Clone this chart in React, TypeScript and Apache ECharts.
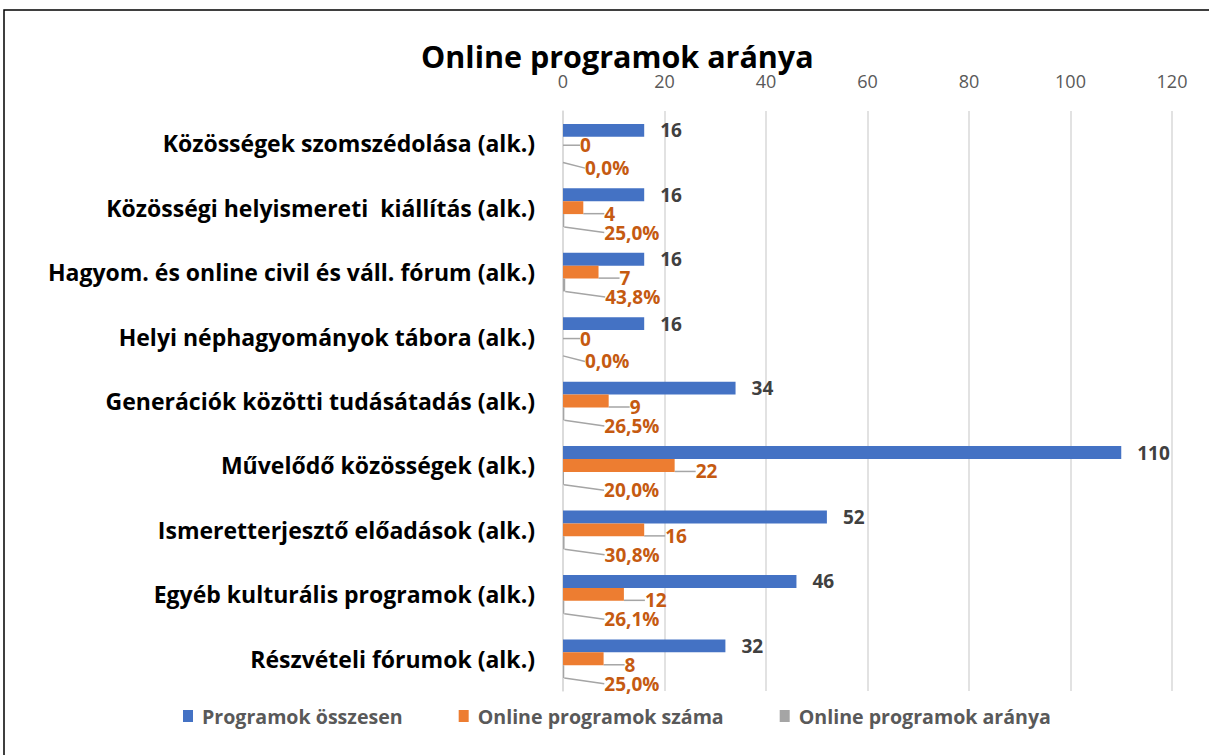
import React, { useEffect, useRef } from "react";
import * as echarts from "echarts";

const categories = [
  "Közösségek szomszédolása (alk.)",
  "Közösségi helyismereti  kiállítás (alk.)",
  "Hagyom. és online civil és váll. fórum (alk.)",
  "Helyi néphagyományok tábora (alk.)",
  "Generációk közötti tudásátadás (alk.)",
  "Művelődő közösségek (alk.)",
  "Ismeretterjesztő előadások (alk.)",
  "Egyéb kulturális programok (alk.)",
  "Részvételi fórumok (alk.)",
];
const totalPrograms = [16, 16, 16, 16, 34, 110, 52, 46, 32];
const onlinePrograms = [0, 4, 7, 0, 9, 22, 16, 12, 8];
const onlineShare = [0.0, 0.25, 0.438, 0.0, 0.265, 0.2, 0.308, 0.261, 0.25];
const seriesNames = ["Programok összesen", "Online programok száma", "Online programok aránya"];
const xTicks = { min: 0, max: 120, interval: 20 };

const FONT = "'Open Sans', Lato, sans-serif";

export default function App() {
  const ref = useRef<HTMLDivElement>(null);
  useEffect(() => {
    if (!ref.current) return;
    const chart = echarts.init(ref.current, null, { renderer: "svg" });
    const labelColor = "#C55A11";
    chart.setOption({
      animation: false,
      textStyle: { fontFamily: FONT },
      title: {
        text: "Online programok aránya",
        left: 416,
        top: 35,
        textStyle: { fontFamily: FONT, fontWeight: "bold", fontSize: 30.5, color: "#000" },
      },
      graphic: [
        {
          type: "rect",
          shape: { x: 4, y: 10, width: 1300, height: 800 },
          style: { fill: "none", stroke: "#000", lineWidth: 1.5 },
          silent: true,
        },
      ],
      legend: {
        bottom: 24,
        left: 178,
        icon: "rect",
        itemWidth: 10,
        itemHeight: 12,
        itemGap: 56,
        textStyle: {
          fontFamily: FONT,
          fontWeight: "bold",
          fontSize: 19.6,
          color: "#595959",
          padding: [0, 0, 0, 4],
        },
        data: seriesNames,
      },
      grid: { left: 563, right: 37, top: 111, bottom: 64 },
      xAxis: {
        type: "value",
        position: "top",
        min: xTicks.min,
        max: xTicks.max,
        interval: xTicks.interval,
        axisLine: { show: false },
        axisTick: { show: false },
        axisLabel: { color: "#595959", fontSize: 18, margin: 21, fontFamily: FONT },
        splitLine: { lineStyle: { color: "#d9d9d9", width: 1.5 } },
      },
      yAxis: {
        type: "category",
        inverse: true,
        data: categories,
        axisLine: { show: true, lineStyle: { color: "#d9d9d9", width: 1.5 } },
        axisTick: { show: false },
        axisLabel: { color: "#000", fontWeight: "bold", fontSize: 23, margin: 28, fontFamily: FONT },
      },
      series: [
        {
          name: seriesNames[0],
          type: "bar",
          data: totalPrograms,
          barGap: "0%",
          barCategoryGap: "40%",
          itemStyle: { color: "#4472C4" },
          label: {
            show: true,
            position: "right",
            distance: 16,
            color: "#404040",
            fontWeight: "bold",
            fontSize: 19,
            fontFamily: FONT,
          },
        },
        {
          name: seriesNames[1],
          type: "bar",
          data: onlinePrograms,
          barGap: "0%",
          barCategoryGap: "40%",
          itemStyle: { color: "#ED7D31" },
          label: {
            show: true,
            position: "right",
            distance: 5,
            color: labelColor,
            fontWeight: "bold",
            fontSize: 19,
            fontFamily: FONT,
          },
          labelLayout: (p: any) =>
            onlinePrograms[p.dataIndex] === 0 ? { dx: 12, dy: 2 } : { dx: 16, dy: 6 },
          labelLine: { show: true, lineStyle: { color: "#a5a5a5", width: 1.5 } },
        },
        {
          name: seriesNames[2],
          type: "bar",
          data: onlineShare,
          barGap: "0%",
          barCategoryGap: "40%",
          itemStyle: { color: "#A5A5A5" },
          label: {
            show: true,
            position: "right",
            distance: 5,
            color: labelColor,
            fontWeight: "bold",
            fontSize: 19,
            fontFamily: FONT,
            formatter: (p: any) => (p.value * 100).toFixed(1).replace(".", ",") + "%",
          },
          labelLayout: (p: any) => ({ dx: onlineShare[p.dataIndex] === 0 ? 17 : 35, dy: 12 }),
          labelLine: { show: true, lineStyle: { color: "#a5a5a5", width: 1.5 } },
        },
      ],
    });
    return () => chart.dispose();
  }, []);
  return (
    <div
      ref={ref}
      style={{ position: "fixed", left: 0, top: 0, width: 1209, height: 755, background: "#fff" }}
    />
  );
}
